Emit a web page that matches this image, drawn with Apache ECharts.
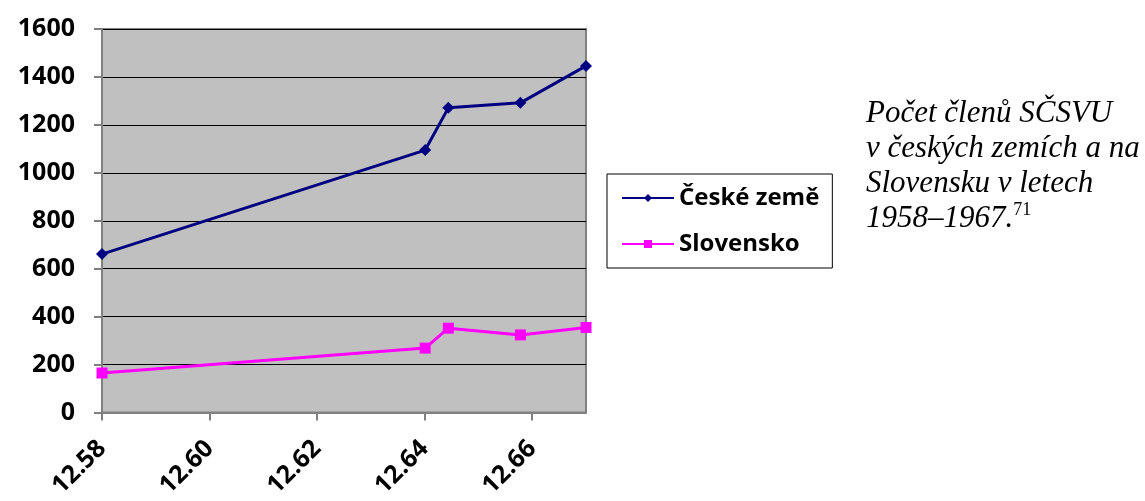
<!DOCTYPE html>
<html>
<head>
<meta charset="utf-8">
<script src="https://cdn.jsdelivr.net/npm/echarts@6/dist/echarts.min.js"></script>
<style>
  html, body { margin: 0; padding: 0; background: #fff; }
  #chart { width: 1145px; height: 501px; }
</style>
</head>
<body>
<div id="chart"></div>
<script>
// x values (as in the source spreadsheet) and members per region
const xValues = [12.58, 12.6401, 12.6444, 12.6578, 12.67];
const ceskeZeme = [661, 1095, 1271, 1292, 1446];
const slovensko = [165, 269, 352, 324, 355];
const xTicks = [12.58, 12.6, 12.62, 12.64, 12.66];
const seriesNames = ['České země', 'Slovensko'];

const myChart = echarts.init(document.getElementById('chart'));

const pair = (ys) => xValues.map((x, i) => [x, ys[i]]);
const labelFont = 'Open Sans';

const option = {
  animation: false,
  backgroundColor: '#fff',
  textStyle: { fontFamily: labelFont },
  grid: {
    left: 102,
    right: 559,
    top: 29,
    bottom: 86,
    show: true,
    backgroundColor: '#C0C0C0',
    borderColor: '#808080',
    borderWidth: 2
  },
  legend: {
    orient: 'vertical',
    left: 607,
    top: 174,
    itemWidth: 52,
    itemHeight: 10,
    itemGap: 22,
    padding: [12, 13, 12, 14],
    borderColor: '#000',
    borderWidth: 1,
    textStyle: { fontSize: 24, lineHeight: 24, fontWeight: 'bold', color: '#000', fontFamily: labelFont },
    data: seriesNames
  },
  title: {
    left: 861,
    top: 91,
    text: '{t|Počet členů SČSVU}\n{t|v českých zemích a na}\n{t|Slovensku v letech}\n{t|1958–1967.}{s|71}',
    textStyle: {
      fontWeight: 'normal',
      rich: {
        t: { fontFamily: 'Liberation Serif', fontStyle: 'italic', fontWeight: 'normal', fontSize: 31, lineHeight: 35, color: '#000' },
        s: { fontFamily: 'Liberation Serif', fontWeight: 'normal', fontSize: 18, lineHeight: 35, verticalAlign: 'top', padding: [0, 0, 12, 0], color: '#000' }
      }
    }
  },
  xAxis: {
    type: 'value',
    min: 12.58,
    max: 12.67,
    interval: 0.02,
    splitLine: { show: false },
    axisLine: { onZero: false, lineStyle: { color: '#808080', width: 2 } },
    axisTick: { show: true, length: 8, customValues: xTicks, lineStyle: { color: '#808080', width: 2 } },
    axisLabel: {
      customValues: xTicks,
      rotate: 45,
      margin: 32,
      fontSize: 25,
      fontWeight: 'bold',
      color: '#000',
      fontFamily: labelFont,
      formatter: (v) => v.toFixed(2)
    }
  },
  yAxis: {
    type: 'value',
    min: 0,
    max: 1600,
    interval: 200,
    splitLine: { show: true, lineStyle: { color: '#000', width: 1 } },
    axisLine: { show: true, lineStyle: { color: '#808080', width: 2 } },
    axisTick: { show: true, length: 8, lineStyle: { color: '#808080', width: 2 } },
    axisLabel: {
      margin: 27,
      fontSize: 25,
      fontWeight: 'bold',
      color: '#000',
      fontFamily: labelFont,
      formatter: (v) => String(v)
    }
  },
  series: [
    {
      name: seriesNames[0],
      type: 'line',
      data: pair(ceskeZeme),
      symbol: 'diamond',
      symbolSize: 12,
      lineStyle: { color: '#000080', width: 3 },
      itemStyle: { color: '#000080' }
    },
    {
      name: seriesNames[1],
      type: 'line',
      data: pair(slovensko),
      symbol: 'rect',
      symbolSize: 11,
      lineStyle: { color: '#FF00FF', width: 3 },
      itemStyle: { color: '#FF00FF' }
    }
  ]
};

myChart.setOption(option);
</script>
</body>
</html>
